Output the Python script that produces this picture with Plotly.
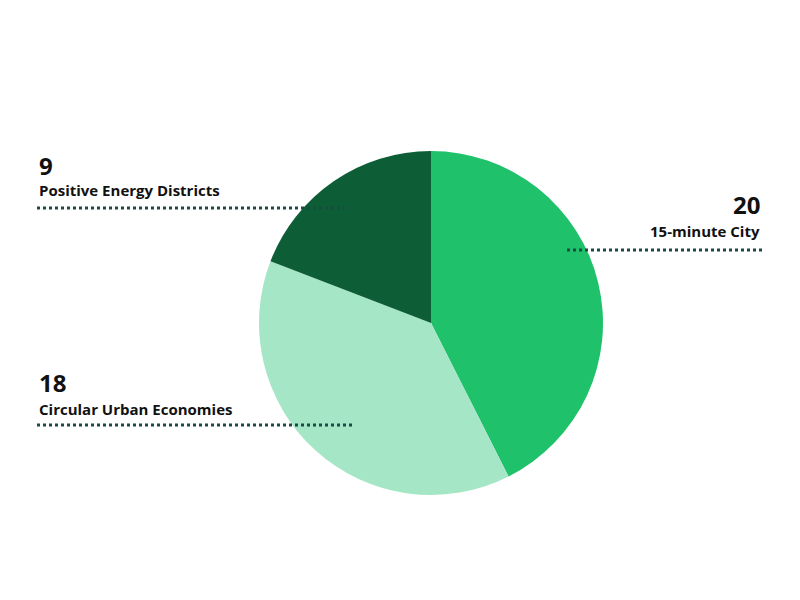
import plotly.graph_objects as go

categories = ["15-minute City", "Circular Urban Economies", "Positive Energy Districts"]
values = [20, 18, 9]
colors = ["#1fc16b", "#a5e6c6", "#0d5e36"]

W, H = 800, 600
O = 8  # page offset compensation

fig = go.Figure(go.Pie(
    labels=categories, values=values, sort=False, direction="clockwise",
    rotation=0, marker=dict(colors=colors, line=dict(width=0)),
    textinfo="none", hoverinfo="label+value",
    domain=dict(x=[(259-O)/W, (603-O)/W], y=[1-(495-O)/H, 1-(151-O)/H]),
))

placements = [
    (0, 762, 204, 231, 250, 567, 762, "right"),
    (1, 37, 382, 409, 425, 37, 352, "left"),
    (2, 37, 166, 190, 208, 37, 345, "left"),
]
ann, shapes = [], []
for i, x, ny, ty, ly, x0, x1, anc in placements:
    ann.append(dict(x=(x-O)/W, y=1-(ny-O)/H, xref="paper", yref="paper", text=f"<b>{values[i]}</b>",
                    showarrow=False, xanchor=anc, yanchor="middle",
                    font=dict(family="Open Sans", size=24, color="#111111")))
    ann.append(dict(x=(x-O)/W, y=1-(ty-O)/H, xref="paper", yref="paper", text=f"<b>{categories[i]}</b>",
                    showarrow=False, xanchor=anc, yanchor="middle",
                    font=dict(family="Open Sans", size=15, color="#111111")))
    shapes.append(dict(type="line", xref="paper", yref="paper", x0=(x0-O)/W, x1=(x1-O)/W,
                       y0=1-(ly-O)/H, y1=1-(ly-O)/H, line=dict(color="#1d4a44", width=3, dash="dot")))

fig.update_layout(width=W, height=H, margin=dict(l=0, r=0, t=0, b=0),
                  showlegend=False, paper_bgcolor="white", plot_bgcolor="white",
                  annotations=ann, shapes=shapes)
fig.write_html("out.html")
